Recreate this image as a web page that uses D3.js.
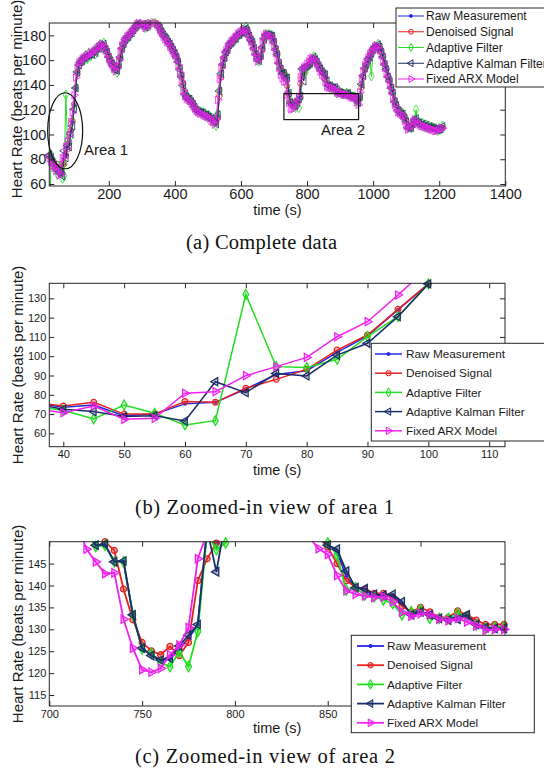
<!DOCTYPE html>
<html>
<head>
<meta charset="utf-8">
<script src="https://cdn.jsdelivr.net/npm/d3@7"></script>
<style>
body { margin: 0; background: #fff; }
svg { display: block; }
text { font-family: "Liberation Sans", Arial, sans-serif; fill: #1a1a1a; }
.cap { font-family: "Liberation Serif", "Times New Roman", serif; fill: #111; }
</style>
</head>
<body>
<script>
// sample instants (s), one every 5 s
var time = d3.range(20, 1211, 5);

// heart rate (bpm), one row = 50 s, first value of the row noted
var rawHR = [
  84, 82, 79, 76, 73.5, 74.7, 69.2, 70, 75.3, 76.1,            // 20
  83, 90.5, 92.5, 102, 110.5, 124, 137.5, 150, 157, 158,       // 70
  160, 161, 163, 162, 165, 164, 165, 167, 166, 169,            // 120
  170, 172, 171, 173, 170, 167, 163, 160, 158, 156,            // 170
  153, 151, 155, 162, 169, 173, 176, 178, 179, 181,            // 220
  182, 184, 186, 188, 189, 191, 192, 189, 187, 187,            // 270
  188, 190, 191, 192, 191, 190, 188, 186, 183, 181,            // 320
  179, 177, 175, 173, 171, 168, 166, 163, 159, 153,            // 370
  147, 140, 133, 130, 129, 128, 127, 125, 122, 120,            // 420
  119, 118, 118, 117, 116, 116, 115, 114, 113, 112,            // 470
  111, 109, 115, 134, 148, 156, 162, 166, 169, 172,            // 520
  174, 175, 177, 178, 180, 181, 182, 183, 184, 185,            // 570
  183, 180, 177, 174, 170, 165, 161, 160, 163, 170,            // 620
  177, 180, 181, 180, 180, 179, 175, 169, 165, 158,            // 670
  153, 149, 149.3, 145.5, 145.5, 133.5, 125.8, 124.2, 123, 123.2, // 720
  125.5, 128, 131, 153, 149, 152, 155, 156, 158, 160,          // 770
  162, 161, 158, 156, 153, 151, 149.2, 147.8, 142, 139.6,      // 820
  138.8, 137.8, 137.6, 137.6, 135.8, 133.6, 134.2, 133.3, 132.6, 132.3, // 870
  133, 133.1, 131.3, 130.5, 130.3, 130.4, 128, 126, 130, 140,  // 920
  148, 153, 157, 160, 163, 166, 168, 170, 171, 172,            // 970
  170, 167, 162, 157, 152, 147, 143, 138, 133, 127,            // 1020
  123, 120, 118, 117, 116, 114, 110, 106, 105, 106,            // 1070
  108, 111, 112, 110, 109, 108, 108, 107, 107, 106,            // 1120
  106, 106, 105, 105, 104, 104, 104, 105, 106                  // 1170
];

var denoisedHR = [
  83, 81, 78.5, 76, 74.2, 76.1, 70, 70, 76.5, 76.1,
  83.4, 88, 93.2, 103.2, 111, 124.3, 137.5, 149, 155, 158,
  160, 161.5, 162.5, 163, 164, 164.5, 165.5, 166.5, 167, 168.5,
  170, 171.5, 172, 172, 170, 167, 163.5, 160.5, 158, 155.5,
  153, 152, 155, 161, 168, 172.5, 175.5, 178, 179.5, 181,
  182.5, 184, 186, 187.5, 189, 190.5, 191, 189.5, 188, 187.5,
  188.5, 190, 191, 191.5, 191, 190, 188, 186, 183.5, 181,
  179, 177, 175, 173, 171, 168.5, 166, 163, 159, 154,
  148, 141, 135, 131, 129.5, 128, 127, 125, 122.5, 120.5,
  119, 118.5, 118, 117, 116.5, 116, 115, 114, 113, 112,
  111, 110, 114, 131, 146, 155, 161, 165.5, 169, 171.5,
  173.5, 175, 176.5, 178, 179.5, 181, 182, 183, 184, 184.5,
  183, 180.5, 177.5, 174, 170, 166, 162, 160.5, 163, 169,
  176, 179.5, 181, 180.5, 180, 179, 175.5, 170, 165, 159,
  154, 151.5, 150, 148, 139.2, 132.2, 127, 125.1, 124.2, 126.1,
  124, 127, 141.1, 146.1, 149.7, 152, 154.5, 156, 158, 160,
  161.5, 161, 158.5, 156, 153.5, 151, 148.8, 145, 141.1, 139.7,
  139.1, 138.2, 138.2, 137.4, 135.3, 134, 135, 134, 132.7, 132.7,
  134.2, 133.3, 132.1, 131.1, 131.1, 131.1, 129, 127, 129.5, 138,
  146, 152, 156.5, 160, 163, 165.5, 168, 169.5, 171, 171.5,
  170, 167, 162.5, 157.5, 152.5, 147.5, 143, 138.5, 133.5, 128,
  124, 121, 118.5, 117, 116, 114.5, 111, 107.5, 106, 106.5,
  108, 110.5, 111.5, 110.5, 109, 108.5, 108, 107.5, 107, 106.5,
  106, 106, 105.5, 105, 104.5, 104.5, 104.5, 105, 105.5
];

var adaptiveHR = [
  0, 84, 80, 74, 72, 67.5, 74.7, 70.4, 64.4, 66.6,
  132, 94.6, 94.1, 98.4, 110.1, 120.5, 137.5, 151, 158, 159,
  161, 160, 164, 161, 166, 163, 166, 168, 165, 170,
  171, 173, 170, 174, 169, 166, 162, 159, 157, 154,
  152, 150, 157, 163, 170, 174, 176, 179, 178, 182,
  183, 185, 187, 189, 188, 191, 191, 188, 186, 188,
  189, 191, 190, 192, 190, 191, 187, 185, 184, 180,
  180, 176, 176, 172, 170, 167, 165, 162, 158, 151,
  146, 138, 131, 131, 128, 129, 126, 124, 123, 119,
  118, 119, 117, 118, 115, 116, 114, 115, 112, 111,
  110, 107, 117, 136, 150, 157, 163, 167, 168, 173,
  175, 174, 178, 177, 181, 180, 183, 182, 185, 187,
  184, 179, 176, 175, 169, 164, 160, 159, 164, 171,
  178, 181, 180, 181, 179, 180, 174, 168, 164, 157,
  152, 148.9, 149.2, 145.4, 145.4, 133.3, 125.5, 124.5, 122.3, 121.5,
  124.9, 121.5, 129.5, 152, 148.2, 149.7, 155, 157, 157, 161,
  163, 160, 159, 155, 154, 152, 149.7, 146.9, 138.9, 139.5,
  137.8, 137.4, 136.7, 135.9, 133.3, 134, 134.4, 132.5, 132.5, 132.5,
  133.6, 132.9, 131, 130.2, 130.5, 130.6, 127, 126, 131, 141,
  147, 154, 156, 161, 162, 147, 169, 171, 170, 173,
  171, 166, 163, 156, 153, 146, 144, 137, 134, 126,
  124, 119, 119, 116, 117, 113, 111, 105, 106, 105,
  109, 112, 120, 109, 110, 107, 109, 106, 108, 105,
  107, 105, 106, 104, 105, 103, 105, 104, 107
];

var kalmanHR = [
  83.5, 81.5, 78, 75.5, 72.5, 71.3, 68.7, 69.2, 66.4, 86.8,
  81.1, 91.1, 89.8, 100.6, 106.7, 120.5, 137.5, 150.5, 156, 158.5,
  159.5, 162, 162, 163.5, 164, 165, 164.5, 167.5, 166, 169.5,
  169.5, 172.5, 171, 173, 169, 166.5, 162.5, 159.5, 157, 155,
  152, 151.5, 156, 162.5, 169.5, 173, 176.5, 178.5, 179, 181.5,
  182, 184.5, 186.5, 188, 189.5, 190.5, 191.5, 189, 186.5, 187,
  188, 190.5, 190.5, 192, 190.5, 190.5, 187.5, 186, 183, 180.5,
  178.5, 177, 174.5, 173, 170.5, 168, 165.5, 162.5, 158.5, 152.5,
  146.5, 139.5, 132.5, 130.5, 128.5, 128.5, 126.5, 124.5, 122, 119.5,
  118.5, 118, 117.5, 117.5, 115.5, 116, 114.5, 114, 112.5, 111.5,
  110.5, 108.5, 116, 135, 149, 156.5, 162, 166.5, 168.5, 172.5,
  174, 175, 177.5, 177.5, 180.5, 180.5, 182.5, 182.5, 184.5, 185.5,
  183.5, 179.5, 176.5, 174.5, 169.5, 164.5, 160.5, 159.5, 163.5, 170.5,
  177.5, 180.5, 180.5, 180.5, 179.5, 179.5, 174.5, 168.5, 164.5, 157.5,
  153, 149.2, 149.4, 145.4, 145.6, 133.3, 125.7, 124, 123, 123.4,
  126.2, 128.7, 131.1, 153, 143.1, 155, 155.5, 156.5, 157.5, 160.5,
  162.5, 160.5, 158.5, 155.5, 153, 151, 149.2, 148.3, 143.3, 139.5,
  139.3, 138, 137.8, 138, 136.3, 133.3, 134, 133.3, 132.5, 132.1,
  132.3, 133.3, 131.1, 130.4, 130.2, 130.2, 127.5, 126, 130.5, 140.5,
  147.5, 153.5, 156.5, 160.5, 162.5, 165.5, 168.5, 170.5, 170.5, 172.5,
  170.5, 166.5, 162.5, 156.5, 152.5, 146.5, 143.5, 137.5, 133.5, 126.5,
  123.5, 119.5, 118.5, 116.5, 116.5, 113.5, 110.5, 105.5, 105.5, 105.5,
  108.5, 111.5, 113, 109.5, 109.5, 107.5, 108.5, 106.5, 107.5, 105.5,
  106.5, 105.5, 105.5, 104.5, 104.5, 103.5, 104.5, 104.5, 106.5
];

var arxHR = [
  81, 78, 75, 73, 70.7, 74.2, 67.3, 67.8, 80.8, 81.6,
  89.9, 94.6, 99.4, 110.1, 117.9, 131.7, 146, 155, 158, 159,
  161, 162, 163, 164, 164, 166, 166, 167, 168, 170,
  171, 172, 173, 171, 168, 165, 161, 158, 156, 153,
  151, 154, 160, 167, 172, 175, 177, 179, 180, 182,
  183, 185, 187, 189, 190, 191, 190, 188, 186, 187,
  189, 190, 191, 191, 190, 189, 187, 184, 182, 179,
  177, 175, 174, 171, 169, 166, 164, 161, 156, 150,
  143, 135, 131, 129, 128, 127, 125, 123, 121, 119,
  118, 117, 117, 116, 115, 115, 114, 113, 111, 110,
  108, 112, 128, 145, 154, 160, 165, 168, 171, 173,
  175, 176, 178, 179, 181, 182, 183, 184, 185, 184,
  181, 178, 175, 171, 167, 162, 159, 161, 167, 174,
  179, 181, 181, 180, 179, 176, 171, 166, 160, 154,
  148.3, 145.4, 142.7, 142.9, 132.3, 125.7, 120.8, 120.2, 121.1, 124.2,
  126.4, 130.4, 146.1, 152, 154, 155, 157, 159, 161, 162,
  161, 159, 157, 154, 151, 148.4, 147.1, 142.3, 138.8, 138,
  137.6, 137.3, 137.4, 136.3, 133.9, 133, 133.6, 133.3, 132.3, 132,
  132.5, 131.7, 130.8, 129.8, 130, 130, 126, 124, 134, 145,
  151, 156, 159, 162, 165, 167, 169, 171, 172, 171,
  168, 164, 159, 154, 149, 145, 140, 135, 129, 124,
  121, 118, 117, 116, 115, 111, 107, 104, 105, 107,
  110, 112, 111, 109, 108, 107, 107, 106, 106, 105,
  105, 104, 104, 103, 103, 103, 104, 105, 105
];

var seriesNames = ["Raw Measurement", "Denoised Signal", "Adaptive Filter", "Adaptive Kalman Filter", "Fixed ARX Model"];
var seriesColors = ["#2626e8", "#e32222", "#22dd22", "#1c2e68", "#ee22ee"];
var seriesMarkers = ["dot", "circle", "diamond", "left", "right"];
var seriesValues = [rawHR, denoisedHR, adaptiveHR, kalmanHR, arxHR];

var xTicksA = [200, 400, 600, 800, 1000, 1200, 1400];
var yTicksA = [60, 80, 100, 120, 140, 160, 180];
var xTicksB = [40, 50, 60, 70, 80, 90, 100, 110];
var yTicksB = [60, 70, 80, 90, 100, 110, 120, 130];
var xTicksC = [700, 750, 800, 850, 900];
var yTicksC = [115, 120, 125, 130, 135, 140, 145];

var width = 544, height = 775;

var svg = d3.select("body").append("svg")
    .attr("width", width)
    .attr("height", height);

function markerPath(kind, size) {
    if (kind == "dot") return d3.symbol(d3.symbolCircle, size * 0.35)();
    if (kind == "circle") return d3.symbol(d3.symbolCircle, size)();
    if (kind == "diamond") return d3.symbol(d3.symbolDiamond, size * 1.1)();
    return d3.symbol(d3.symbolTriangle, size * 1.1)();
}

function markerRotate(kind) {
    if (kind == "left") return " rotate(-90)";
    if (kind == "right") return " rotate(90)";
    return "";
}

function drawPanel(cfg) {
    var x = d3.scaleLinear().domain(cfg.xDomain).range([cfg.left, cfg.right]);
    var y = d3.scaleLinear().domain(cfg.yDomain).range([cfg.bottom, cfg.top]);
    var g = svg.append("g");

    g.append("clipPath").attr("id", "clip" + cfg.id)
        .append("rect")
        .attr("x", cfg.left).attr("y", cfg.top)
        .attr("width", cfg.right - cfg.left)
        .attr("height", cfg.bottom - cfg.top);

    var line = d3.line()
        .x(function (d) { return x(d[0]); })
        .y(function (d) { return y(d[1]); });

    seriesValues.forEach(function (vals, k) {
        var pts = time.map(function (t, i) { return [t, vals[i]]; })
            .filter(function (d) { return d[0] >= cfg.xDomain[0] - 10 && d[0] <= cfg.xDomain[1] + 10; });

        g.append("path")
            .datum(pts)
            .attr("clip-path", "url(#clip" + cfg.id + ")")
            .attr("fill", "none")
            .attr("stroke", seriesColors[k])
            .attr("stroke-width", cfg.lineWidth)
            .attr("d", line);

        // markers only where the sample sits inside the axes
        var inside = pts.filter(function (d) {
            return d[0] >= cfg.xDomain[0] - 0.5 && d[0] <= cfg.xDomain[1] + 0.5 &&
                d[1] >= cfg.yDomain[0] && d[1] <= cfg.yDomain[1];
        });
        var kind = seriesMarkers[k];
        g.selectAll(".m" + k)
            .data(inside)
            .enter().append("path")
            .attr("class", "m" + k)
            .attr("d", markerPath(kind, cfg.markerSize))
            .attr("transform", function (d) {
                return "translate(" + x(d[0]) + "," + y(d[1]) + ")" + markerRotate(kind);
            })
            .attr("fill", kind == "dot" ? seriesColors[k] : (cfg.markerFill ? seriesColors[k] : "none"))
            .attr("fill-opacity", kind == "dot" ? 1 : cfg.markerFill)
            .attr("stroke", seriesColors[k])
            .attr("stroke-width", kind == "dot" ? 0.5 : cfg.markerStroke);
    });

    // axes with inward ticks on all four sides
    var tick = 5;
    function styleAxis(sel) {
        sel.select(".domain").remove();
        sel.selectAll("line").attr("stroke", "#262626");
        sel.selectAll("text").style("font-size", cfg.tickFont + "px")
            .style("font-family", "'Liberation Sans', Arial, sans-serif").attr("fill", "#1a1a1a");
    }
    var xFormat = function (v) { return cfg.hideX && cfg.hideX.indexOf(v) >= 0 ? "" : d3.format("d")(v); };
    g.append("g").attr("transform", "translate(0," + cfg.bottom + ")")
        .call(d3.axisBottom(x).tickValues(cfg.xTicks).tickSize(-tick).tickPadding(cfg.xPad).tickFormat(xFormat))
        .call(styleAxis);
    g.append("g").attr("transform", "translate(0," + cfg.top + ")")
        .call(d3.axisTop(x).tickValues(cfg.xTicks).tickSize(-tick).tickFormat(""))
        .call(styleAxis);
    g.append("g").attr("transform", "translate(" + cfg.left + ",0)")
        .call(d3.axisLeft(y).tickValues(cfg.yTicks).tickSize(-tick).tickPadding(3).tickFormat(d3.format("d")))
        .call(styleAxis);
    g.append("g").attr("transform", "translate(" + cfg.right + ",0)")
        .call(d3.axisRight(y).tickValues(cfg.yTicks).tickSize(-tick).tickFormat(""))
        .call(styleAxis);

    g.append("rect")
        .attr("x", cfg.left).attr("y", cfg.top)
        .attr("width", cfg.right - cfg.left)
        .attr("height", cfg.bottom - cfg.top)
        .attr("fill", "none")
        .attr("stroke", "#262626")
        .attr("stroke-width", 1);

    // axis labels
    g.append("text")
        .attr("x", (cfg.left + cfg.right) / 2)
        .attr("y", cfg.xLabelY)
        .attr("text-anchor", "middle")
        .style("font-size", "14.5px")
        .text("time (s)");
    g.append("text")
        .attr("transform", "translate(" + cfg.yLabelX + "," + cfg.yLabelMid + ") rotate(-90)")
        .attr("text-anchor", "middle")
        .style("font-size", "15px")
        .text("Heart Rate (beats per minute)");

    return {x: x, y: y, g: g};
}

function drawLegend(lg) {
    var g = svg.append("g");
    g.append("rect")
        .attr("x", lg.x).attr("y", lg.y)
        .attr("width", lg.w).attr("height", lg.h)
        .attr("fill", "#fff").attr("stroke", "#262626").attr("stroke-width", 1);
    seriesNames.forEach(function (name, k) {
        var ry = lg.row0 + k * lg.step;
        g.append("line")
            .attr("x1", lg.x1).attr("x2", lg.x2)
            .attr("y1", ry).attr("y2", ry)
            .attr("stroke", seriesColors[k]).attr("stroke-width", lg.lineWidth);
        var kind = seriesMarkers[k];
        g.append("path")
            .attr("d", markerPath(kind, lg.markerSize))
            .attr("transform", "translate(" + ((lg.x1 + lg.x2) / 2) + "," + ry + ")" + markerRotate(kind))
            .attr("fill", kind == "dot" ? seriesColors[k] : (lg.markerFill ? seriesColors[k] : "none"))
            .attr("fill-opacity", kind == "dot" ? 1 : lg.markerFill)
            .attr("stroke", seriesColors[k]).attr("stroke-width", 1);
        g.append("text")
            .attr("x", lg.tx).attr("y", ry)
            .attr("dy", "0.36em")
            .style("font-size", lg.font + "px")
            .text(name);
    });
}

// (a) complete data
var pa = drawPanel({
    id: "a", left: 49.3, right: 505.3, top: 23, bottom: 186,
    xDomain: [20, 1400], yDomain: [58.4, 190],
    xTicks: xTicksA, yTicks: yTicksA, tickFont: 14.5, xPad: 3,
    lineWidth: 1, markerSize: 24, markerStroke: 0.8, markerFill: 0,
    xLabelY: 215, yLabelX: 22, yLabelMid: 99
});

// area 1 ellipse and area 2 box
pa.g.append("ellipse")
    .attr("cx", pa.x(68)).attr("cy", pa.y(103))
    .attr("rx", 17.5).attr("ry", 38)
    .attr("fill", "none").attr("stroke", "#111").attr("stroke-width", 1.2);
pa.g.append("text").attr("x", 84).attr("y", 155).style("font-size", "15px").text("Area 1");
pa.g.append("rect")
    .attr("x", pa.x(730)).attr("y", pa.y(133))
    .attr("width", pa.x(956) - pa.x(730)).attr("height", pa.y(112) - pa.y(133))
    .attr("fill", "none").attr("stroke", "#111").attr("stroke-width", 1.2);
pa.g.append("text").attr("x", 343).attr("y", 135).attr("text-anchor", "middle")
    .style("font-size", "15px").text("Area 2");

drawLegend({x: 396, y: 8, w: 170, h: 79, row0: 16, step: 15.75,
    x1: 398, x2: 424, tx: 426, font: 12, lineWidth: 1, markerSize: 18, markerFill: 0});

// (b) zoom on area 1
drawPanel({
    id: "b", left: 49.3, right: 505, top: 283.3, bottom: 446.7,
    xDomain: [37.7, 112.6], yDomain: [53.1, 137.8],
    xTicks: xTicksB, yTicks: yTicksB, tickFont: 11, xPad: 4,
    lineWidth: 1.5, markerSize: 26, markerStroke: 1.2, markerFill: 0.25,
    xLabelY: 475, yLabelX: 23, yLabelMid: 365
});
drawLegend({x: 371.3, y: 343.3, w: 190, h: 97.7, row0: 354, step: 19.2,
    x1: 375, x2: 402, tx: 406, font: 11.8, lineWidth: 1.5, markerSize: 22, markerFill: 0.25});

// (c) zoom on area 2
drawPanel({
    id: "c", left: 49.3, right: 505, top: 541.7, bottom: 706,
    xDomain: [700, 945.5], yDomain: [112.5, 150],
    xTicks: xTicksC, yTicks: yTicksC, tickFont: 11, xPad: 4, hideX: [900],
    lineWidth: 1.8, markerSize: 28, markerStroke: 1.3, markerFill: 0.35,
    xLabelY: 733, yLabelX: 23, yLabelMid: 624
});
drawLegend({x: 351.3, y: 635.3, w: 183, h: 97.4, row0: 646, step: 19.2,
    x1: 357, x2: 384, tx: 387, font: 11.8, lineWidth: 1.8, markerSize: 24, markerFill: 0.5});

// captions
svg.append("text").attr("class", "cap").attr("x", 186).attr("y", 249)
    .attr("textLength", 151).attr("lengthAdjust", "spacing")
    .style("font-size", "20.5px").text("(a) Complete data");
svg.append("text").attr("class", "cap").attr("x", 135).attr("y", 514)
    .attr("textLength", 259).attr("lengthAdjust", "spacing")
    .style("font-size", "20.5px").text("(b) Zoomed-in view of area 1");
svg.append("text").attr("class", "cap").attr("x", 135).attr("y", 763)
    .attr("textLength", 260).attr("lengthAdjust", "spacing")
    .style("font-size", "20.5px").text("(c) Zoomed-in view of area 2");
</script>
</body>
</html>
